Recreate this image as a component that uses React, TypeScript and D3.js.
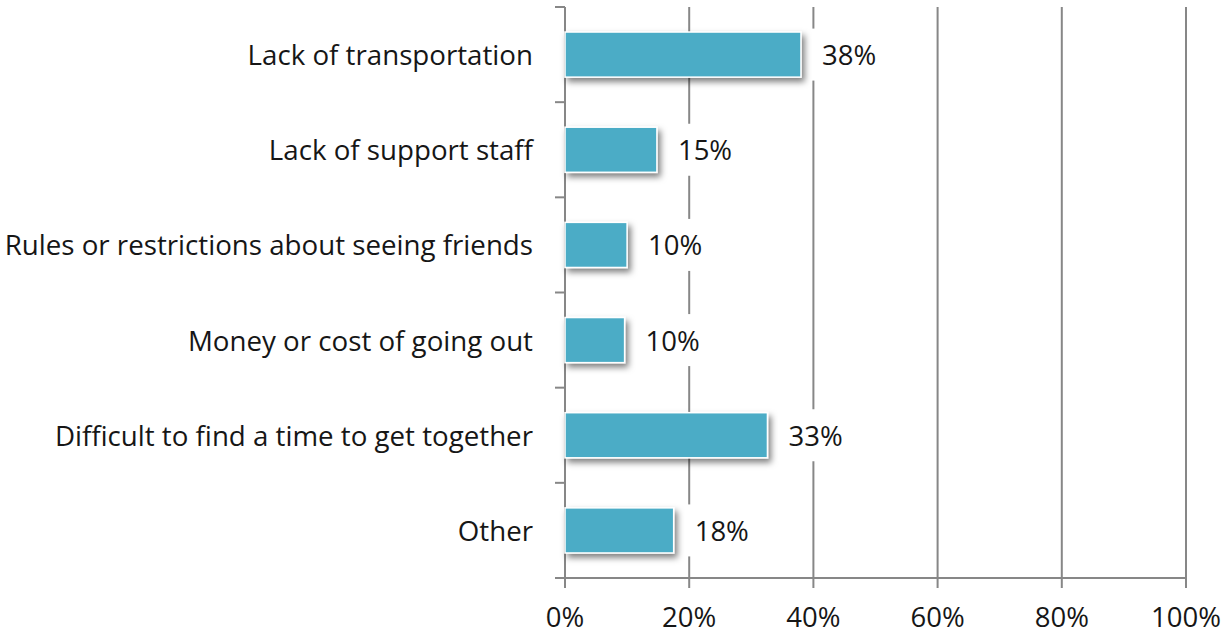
import * as d3 from "d3"

const categories = [
  "Lack of transportation",
  "Lack of support staff",
  "Rules or restrictions about seeing friends",
  "Money or cost of going out",
  "Difficult to find a time to get together",
  "Other",
]
const values = [38, 14.8, 10, 9.6, 32.6, 17.5]
const valueLabels = ["38%", "15%", "10%", "10%", "33%", "18%"]
const xTicks = [0, 20, 40, 60, 80, 100]

const WIDTH = 1225
const HEIGHT = 635
const FONT = "'Open Sans', 'DejaVu Sans', sans-serif"
const GRID = "#878787"
const BAR = "#4BACC6"

export default function App() {
  const x = d3.scaleLinear().domain([0, 100]).range([565, 1186])
  const y = d3
    .scaleBand<string>()
    .domain(categories)
    .range([7, 578])
    .paddingInner(0.526)
    .paddingOuter(0.263)

  const [y0, y1] = y.range()
  const step = y.step()
  // category boundaries for the left axis ticks
  const boundaries = d3.range(categories.length + 1).map((i) => y0 + i * step)

  return (
    <svg
      width={WIDTH}
      height={HEIGHT}
      style={{ position: "absolute", left: 0, top: 0, background: "#fff" }}
      fontFamily={FONT}
    >
      <defs>
        <filter id="shadow" x="-10%" y="-30%" width="130%" height="180%">
          <feDropShadow dx="3" dy="4" stdDeviation="3" floodColor="#000" floodOpacity="0.5" />
        </filter>
      </defs>

      {/* vertical gridlines + bottom ticks */}
      {xTicks.map((t) => (
        <line key={"g" + t} x1={x(t)} x2={x(t)} y1={y0} y2={y1 + 10} stroke={GRID} strokeWidth={2} />
      ))}

      {/* x axis */}
      <line x1={x(0)} x2={x(100)} y1={y1} y2={y1} stroke={GRID} strokeWidth={2} />

      {/* left axis ticks */}
      {boundaries.map((b, i) => (
        <line key={"t" + i} x1={x(0) - 10} x2={x(0)} y1={b} y2={b} stroke={GRID} strokeWidth={2} />
      ))}

      {/* bars */}
      {categories.map((c, i) => (
        <rect
          key={"b" + c}
          x={x(0)}
          y={y(c)!}
          width={x(values[i]) - x(0)}
          height={y.bandwidth()}
          fill={BAR}
          stroke="#fff"
          strokeWidth={1.5}
          filter="url(#shadow)"
        />
      ))}

      {/* value labels with white boxes */}
      {categories.map((c, i) => {
        const cy = y(c)! + y.bandwidth() / 2
        const bx = x(values[i]) + 11
        return (
          <g key={"l" + c}>
            <rect x={bx} y={cy - 26} width={76} height={52} fill="#fff" />
            <text x={bx + 10} y={cy + 10.5} fontSize={27.5} fill="#161616">
              {valueLabels[i]}
            </text>
          </g>
        )
      })}

      {/* category labels */}
      {categories.map((c) => (
        <text
          key={"c" + c}
          x={533}
          y={y(c)! + y.bandwidth() / 2 + 10.5}
          textAnchor="end"
          fontSize={27.7}
          fill="#161616"
        >
          {c}
        </text>
      ))}

      {/* x tick labels */}
      {xTicks.map((t) => (
        <text key={"x" + t} x={x(t)} y={627} textAnchor="middle" fontSize={27.5} fill="#161616">
          {t + "%"}
        </text>
      ))}
    </svg>
  )
}
